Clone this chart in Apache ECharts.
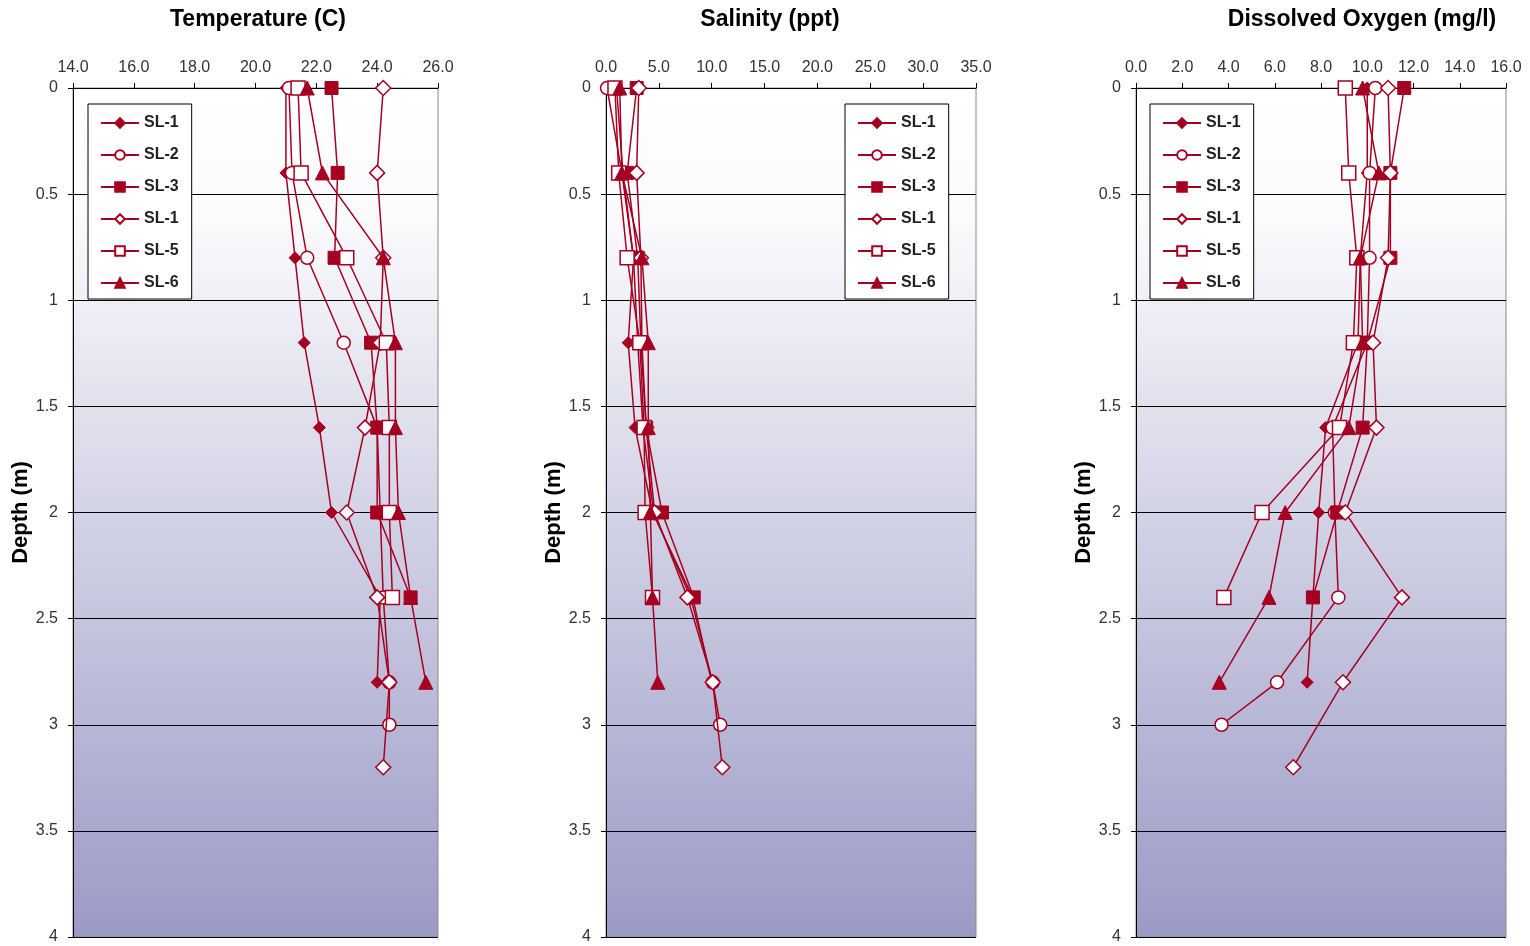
<!DOCTYPE html>
<html>
<head>
<meta charset="utf-8">
<script src="https://cdn.jsdelivr.net/npm/echarts@6/dist/echarts.min.js"></script>
<style>
html,body{margin:0;padding:0;background:#fff;}
#chart{width:1530px;height:946px;}
</style>
</head>
<body>
<div id="chart"></div>
<script>
// ---- Data ----
const stationNames = ['SL-1', 'SL-2', 'SL-3', 'SL-1 ', 'SL-5', 'SL-6'];
const panelTitles = ['Temperature (C)', 'Salinity (ppt)', 'Dissolved Oxygen (mg/l)'];
const depthTicks = [0, 0.5, 1, 1.5, 2, 2.5, 3, 3.5, 4];

const depthSL1  = [0, 0.4, 0.8, 1.2, 1.6, 2.0, 2.4, 2.8];
const depthSL2  = [0, 0.4, 0.8, 1.2, 1.6, 2.0, 2.4, 2.8, 3.0];
const depthSL3  = [0, 0.4, 0.8, 1.2, 1.6, 2.0, 2.4];
const depthSL4  = [0, 0.4, 0.8, 1.2, 1.6, 2.0, 2.4, 2.8, 3.2];
const depthSL5  = [0, 0.4, 0.8, 1.2, 1.6, 2.0, 2.4];
const depthSL6  = [0, 0.4, 0.8, 1.2, 1.6, 2.0, 2.4, 2.8];

const tempSL1 = [21.0, 21.0, 21.3, 21.6, 22.1, 22.5, 24.1, 24.0];
const tempSL2 = [21.1, 21.2, 21.7, 22.9, 24.0, 24.1, 24.2, 24.4, 24.4];
const tempSL3 = [22.5, 22.7, 22.6, 23.8, 24.0, 24.0, 25.1];
const tempSL4 = [24.2, 24.0, 24.2, 24.1, 23.6, 23.0, 24.0, 24.4, 24.2];
const tempSL5 = [21.4, 21.5, 23.0, 24.3, 24.4, 24.4, 24.5];
const tempSL6 = [21.7, 22.2, 24.2, 24.6, 24.6, 24.7, 25.1, 25.6];

const salSL1 = [1.0, 1.6, 2.6, 2.1, 2.75, 4.4, 8.2, 10.0];
const salSL2 = [0.1, 1.5, 2.6, 3.0, 3.5, 4.5, 8.0, 10.1, 10.8];
const salSL3 = [2.9, 2.0, 3.0, 3.3, 3.8, 5.3, 8.3];
const salSL4 = [3.1, 2.9, 3.3, 3.4, 3.8, 4.6, 7.7, 10.1, 11.0];
const salSL5 = [0.85, 1.2, 2.0, 3.2, 3.6, 3.7, 4.4];
const salSL6 = [1.3, 1.5, 3.4, 4.0, 4.0, 4.2, 4.4, 4.9];

const doSL1 = [10.0, 10.0, 9.7, 9.6, 8.2, 7.9, 7.65, 7.4];
const doSL2 = [10.35, 10.1, 10.1, 10.0, 8.5, 8.6, 8.75, 6.1, 3.7];
const doSL3 = [11.6, 11.0, 11.0, 10.0, 9.8, 8.7, 7.65];
const doSL4 = [10.9, 11.0, 10.9, 10.25, 10.4, 9.05, 11.5, 8.95, 6.8];
const doSL5 = [9.05, 9.2, 9.55, 9.4, 8.8, 5.45, 3.8];
const doSL6 = [9.8, 10.5, 9.7, 9.8, 9.2, 6.45, 5.75, 3.6];

const xMins = [14, 0, 0];
const xMaxs = [26, 35, 16];
const xSteps = [2, 5, 2];

// ---- Build ----
const depths = [depthSL1, depthSL2, depthSL3, depthSL4, depthSL5, depthSL6];
const panelValues = [
  [tempSL1, tempSL2, tempSL3, tempSL4, tempSL5, tempSL6],
  [salSL1, salSL2, salSL3, salSL4, salSL5, salSL6],
  [doSL1, doSL2, doSL3, doSL4, doSL5, doSL6]
];
const RED = '#a50021';
const styles = [
  {symbol: 'diamond', size: 12, filled: true},
  {symbol: 'circle', size: 13, filled: false},
  {symbol: 'rect', size: 13, filled: true},
  {symbol: 'diamond', size: 15, filled: false},
  {symbol: 'rect', size: 14, filled: false},
  {symbol: 'triangle', size: 14, filled: true}
];

const gridLefts = [73, 606, 1136];
const gridWidths = [365, 370, 370];
const titleCenters = [253, 765, 1357];
const gridTop = 88, gridHeight = 849;
const FONT = '"Liberation Sans", Arial, sans-serif';

const bg = {
  type: 'linear', x: 0, y: 0, x2: 0, y2: 1,
  colorStops: [
    {offset: 0, color: '#ffffff'},
    {offset: 0.15, color: '#fbfbfd'},
    {offset: 1, color: '#9a9ac6'}
  ]
};

const grids = [], xAxes = [], yAxes = [], series = [], titles = [], legends = [];
const legendLefts = [88, 845, 1150];
for (let p = 0; p < 3; p++) {
  grids.push({
    left: gridLefts[p], top: gridTop, width: gridWidths[p], height: gridHeight,
    show: true, backgroundColor: bg, borderColor: '#8a8a8a', borderWidth: 1
  });
  xAxes.push({
    type: 'value', gridIndex: p, position: 'top',
    min: xMins[p], max: xMaxs[p], interval: xSteps[p],
    axisLine: {show: true, lineStyle: {color: '#000', width: 1}},
    axisTick: {show: true, length: 5, lineStyle: {color: '#000'}},
    axisLabel: {formatter: v => v.toFixed(1), color: '#333', fontSize: 16, fontFamily: FONT, margin: 12},
    splitLine: {show: false}
  });
  yAxes.push({
    type: 'value', gridIndex: p, inverse: true,
    min: 0, max: 4, interval: 0.5,
    name: 'Depth (m)', nameLocation: 'middle', nameGap: 40, nameRotate: 90,
    nameTextStyle: {fontSize: 22, fontWeight: 'bold', color: '#000', fontFamily: FONT},
    axisLine: {show: true, lineStyle: {color: '#000', width: 1}},
    axisTick: {show: true, length: 5, lineStyle: {color: '#000'}},
    axisLabel: {color: '#333', fontSize: 16, fontFamily: FONT, margin: 15,
      formatter: v => depthTicks.indexOf(v) >= 0 ? String(v) : ''},
    splitLine: {show: true, lineStyle: {color: '#000', width: 1}}
  });
  titles.push({
    text: panelTitles[p], left: titleCenters[p], top: 3, textAlign: 'center',
    textStyle: {fontSize: 23, fontWeight: 'bold', color: '#000', fontFamily: FONT}
  });
  legends.push({
    orient: 'vertical', left: legendLefts[p], top: 104,
    data: stationNames.slice(),
    formatter: n => n.trim(),
    backgroundColor: '#fff', borderColor: '#000', borderWidth: 1,
    padding: [11, 13, 8, 12], itemGap: 16, itemWidth: 38, itemHeight: 12,
    textStyle: {fontSize: 16, fontWeight: 'bold', color: '#222', fontFamily: FONT},
    selectedMode: false
  });
  for (let s = 0; s < 6; s++) {
    const st = styles[s];
    const vals = panelValues[p][s];
    series.push({
      name: stationNames[s], type: 'line',
      xAxisIndex: p, yAxisIndex: p,
      data: vals.map((v, i) => [v, depths[s][i]]),
      symbol: st.symbol, symbolSize: st.size,
      showAllSymbol: true,
      lineStyle: {color: RED, width: 1.5},
      itemStyle: st.filled ? {color: RED, borderColor: RED, borderWidth: 1}
                           : {color: '#ffffff', borderColor: RED, borderWidth: 1.5},
      emphasis: {disabled: true},
      z: 3 + s
    });
  }
}

const chart = echarts.init(document.getElementById('chart'), null, {renderer: 'canvas'});
chart.setOption({
  animation: false,
  backgroundColor: '#ffffff',
  textStyle: {fontFamily: FONT},
  title: titles,
  legend: legends,
  grid: grids,
  xAxis: xAxes,
  yAxis: yAxes,
  series: series
});
</script>
</body>
</html>
